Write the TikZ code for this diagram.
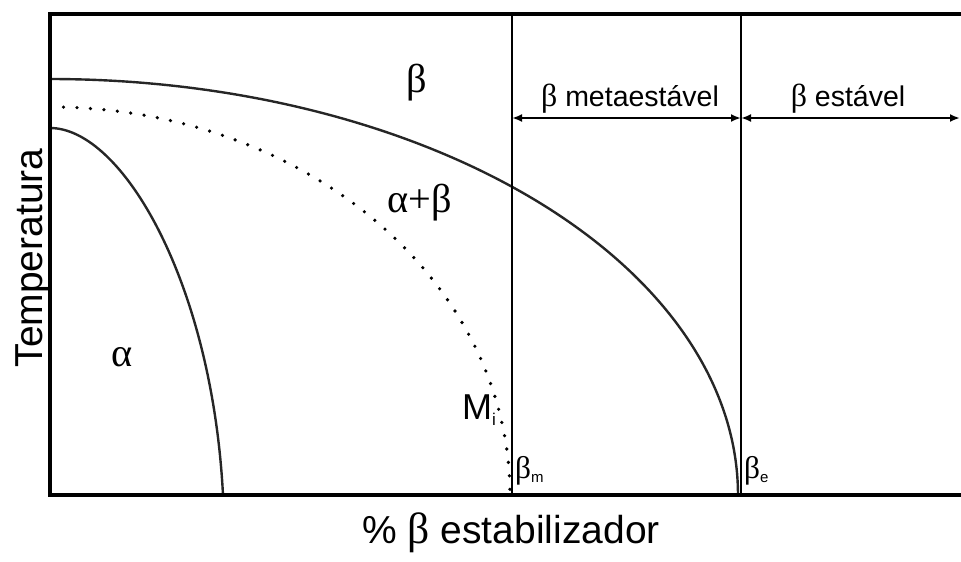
\documentclass[tikz,border=0pt]{standalone}
\usepackage{fontspec}
\setmainfont{Liberation Sans}
\newfontfamily\grkfont[Scale=1.12]{Liberation Serif}
\usetikzlibrary{arrows.meta}
\tikzset{
  frameline/.style={line width=4.5pt, line cap=rect},
  limitline/.style={line width=2pt},
  phasecurve/.style={line width=2.4pt, color=black!85},
  dotcurve/.style={line width=3.6pt, line cap=round, dash pattern=on 0pt off 13.5pt},
  dimarrow/.style={line width=2pt, {Latex[length=10pt,width=8pt]}-{Latex[length=10pt,width=8pt]}},
  biglabel/.style={inner sep=0pt, font=\fontsize{36}{40}\selectfont},
  axislabel/.style={inner sep=0pt, font=\fontsize{39}{44}\selectfont},
  rangelabel/.style={inner sep=0pt, font=\fontsize{28.5}{32}\selectfont},
  smalllabel/.style={inner sep=0pt, font=\fontsize{28}{32}\selectfont}
}
\begin{document}
\begin{tikzpicture}[x=1pt,y=-1pt]
\useasboundingbox (0,0) rectangle (961,562);
% frame
\coordinate (tl) at (50,14);
\coordinate (bl) at (50,495);
\coordinate (tr) at (961,14);
\coordinate (br) at (961,495);
% phase curves
\draw[phasecurve] plot[domain=0:90, samples=90, smooth] ({50+688*sin(\x)}, {495-416*cos(\x)});
\draw[dotcurve] plot[domain=0:90, samples=90, smooth] ({50+460*sin(\x)}, {495-388*cos(\x)});
\draw[phasecurve] (50,128) .. controls (122,128) and (212,282) .. (223,495);
% vertical limits
\coordinate (mtop) at (512,14);
\coordinate (mbot) at (512,495);
\coordinate (etop) at (741,14);
\coordinate (ebot) at (741,495);
\draw[limitline] (mtop) -- (mbot);
\draw[limitline] (etop) -- (ebot);
% frame lines
\draw[frameline] (tr) -- (tl) -- (bl) -- (br);
% range arrows
\coordinate (am) at (512,118);
\coordinate (ae) at (741,118);
\coordinate (ar) at (960,118);
\draw[dimarrow] (am) -- (ae);
\draw[dimarrow] (ae) -- (ar);
% labels
\node[biglabel, anchor=base] (beta) at (417,92) {\grkfont β};
\node[biglabel, anchor=base] (ab) at (420,212) {\grkfont α+β};
\node[biglabel, anchor=base] (alpha) at (122,366) {\grkfont α};
\node[biglabel, anchor=base west] (mi) at (462,419) {M\raisebox{-6pt}{\fontsize{17}{18}\selectfont i}};
\node[smalllabel, anchor=base west] (bm) at (515,478) {{\grkfont β}\raisebox{-4pt}{\fontsize{15}{16}\selectfont m}};
\node[smalllabel, anchor=base west] (be) at (744,478) {{\grkfont β}\raisebox{-4pt}{\fontsize{15}{16}\selectfont e}};
\node[rangelabel, anchor=base] (bmeta) at (630,106) {{\grkfont β} metaestável};
\node[rangelabel, anchor=base] (best) at (848,106) {{\grkfont β} estável};
\node[axislabel, anchor=base, rotate=90] (temp) at (42,258) {Temperatura};
\node[axislabel, anchor=base] (xlab) at (511,543) {\% {\grkfont β} estabilizador};
\end{tikzpicture}
\end{document}
